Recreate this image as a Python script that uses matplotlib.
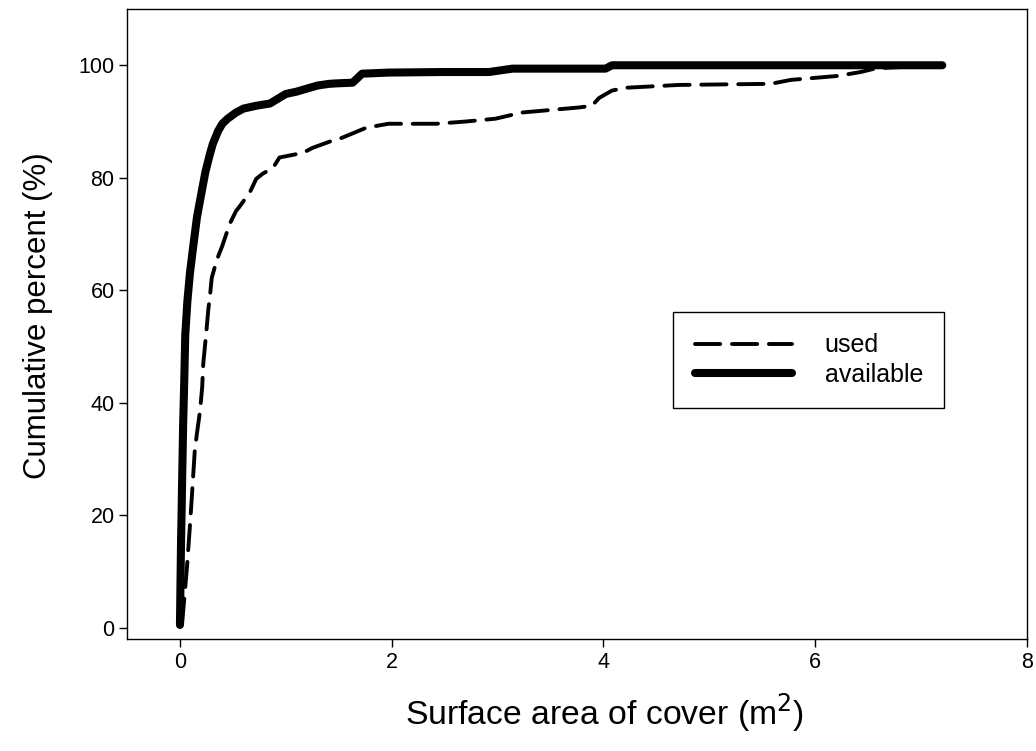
import matplotlib.pyplot as plt

plt.rcParams['font.family'] = ['Liberation Sans', 'DejaVu Sans']

# cumulative distribution of cover surface area
avail_x = [0, 0.005, 0.01, 0.015, 0.02, 0.03, 0.04, 0.05, 0.07, 0.094, 0.12, 0.16, 0.19,
           0.24, 0.28, 0.31, 0.36, 0.40, 0.45, 0.53, 0.6, 0.72, 0.85, 0.92, 1.0, 1.1,
           1.19, 1.3, 1.41, 1.5, 1.63, 1.67, 1.72, 1.97, 2.5, 2.92, 3.14, 4.02, 4.08, 7.2]
avail_y = [0.5, 8, 15, 20, 25.6, 36, 43.4, 52, 58, 63, 67, 72.9, 76,
           81, 84, 86, 88.3, 89.6, 90.5, 91.6, 92.3, 92.8, 93.2, 94, 94.9, 95.3,
           95.8, 96.4, 96.7, 96.8, 96.9, 97.6, 98.5, 98.7, 98.8, 98.8, 99.4, 99.4, 100, 100]

used_x = [0.02, 0.04, 0.066, 0.09, 0.11, 0.14, 0.16, 0.19, 0.21, 0.22, 0.25, 0.27, 0.28,
          0.30, 0.35, 0.40, 0.47, 0.53, 0.56, 0.66, 0.72, 0.78, 0.88, 0.94, 1.1, 1.16,
          1.25, 1.44, 1.53, 1.76, 1.97, 2.42, 2.70, 2.98, 3.23, 3.77, 3.89, 3.96, 4.08,
          4.21, 4.71, 5.58, 5.77, 6.21, 6.43, 6.56, 6.71, 7.2]
used_y = [0.7, 5, 10.7, 17, 22.6, 31.5, 34.5, 38.6, 42.8, 46.9, 52.8, 57, 58.3,
          62.2, 65.5, 67.9, 71.8, 74.1, 74.8, 77.4, 79.8, 80.7, 81.8, 83.6, 84.2, 84.4,
          85.3, 86.6, 87.1, 88.9, 89.6, 89.6, 90, 90.5, 91.6, 92.5, 92.8, 94.2, 95.5,
          96, 96.5, 96.7, 97.4, 98.1, 98.8, 99.4, 99.6, 100]

fig = plt.figure(figsize=(10.36, 7.51), dpi=100)
ax = fig.add_axes([0.1226, 0.1491, 0.8687, 0.8389])

ax.plot(used_x, used_y, color='black', lw=2.8, linestyle=(0, (6.5, 3)),
        dash_capstyle='round', label='used')
ax.plot(avail_x, avail_y, color='black', lw=5.8, solid_capstyle='round',
        solid_joinstyle='round', label='available')

ax.set_xlim(-0.5, 8)
ax.set_ylim(-2, 110)
ax.set_xticks([0, 2, 4, 6, 8])
ax.set_yticks([0, 20, 40, 60, 80, 100])
ax.tick_params(direction='out', length=6, width=1, labelsize=15.5, pad=3,
               top=False, right=False)
for s in ax.spines.values():
    s.set_linewidth(1)

ax.set_xlabel('Surface area of cover (m$^2$)', fontsize=24.3)
ax.set_ylabel('Cumulative percent (%)', fontsize=22.5)
ax.xaxis.set_label_coords(0.531, -0.083)
ax.yaxis.set_label_coords(-0.082, 0.514)

leg = ax.legend(loc='upper left', bbox_to_anchor=(0.607, 0.519), borderaxespad=0,
                fancybox=False, edgecolor='black', framealpha=1, fontsize=18,
                handlelength=3.9, borderpad=0.85, labelspacing=0.22, handletextpad=1.3)
leg.get_frame().set_linewidth(1)

fig.savefig('out.png', dpi=100)
